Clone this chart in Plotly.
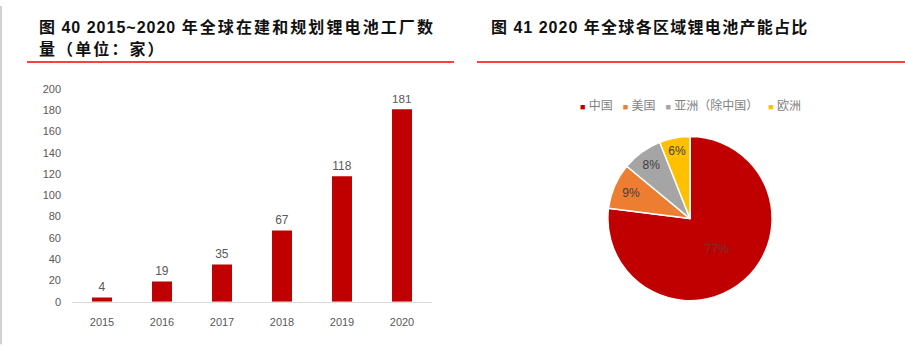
import plotly.graph_objects as go

# ---- data ----
years = ["2015", "2016", "2017", "2018", "2019", "2020"]
factories = [4, 19, 35, 67, 118, 181]

regions = ["中国", "美国", "亚洲（除中国）", "欧洲"]
shares = [77, 9, 8, 6]
region_colors = ["#C00000", "#ED7D31", "#A5A5A5", "#FFC000"]

title_left_head = "图 40 2015~2020 "
title_left_1 = "年全球在建和规划锂电池工厂数"
title_left_2 = "量（单位：家）"
title_right_head = "图 41 2020 "
title_right = "年全球各区域锂电池产能占比"

W, H = 905, 355
def px(x):
    return x / W
def py(y):
    return 1 - y / H

fig = go.Figure()

fig.add_trace(go.Bar(
    x=years, y=factories,
    marker=dict(color="#C00000", line=dict(width=0)),
    text=factories, textposition="outside", cliponaxis=False,
    textfont=dict(family="Liberation Sans, Arial, sans-serif", size=12, color="#595959"),
    showlegend=False, hoverinfo="x+y",
))

fig.add_trace(go.Pie(
    labels=regions, values=shares,
    marker=dict(colors=region_colors, line=dict(color="white", width=1.5)),
    sort=False, direction="clockwise", rotation=0,
    textposition="inside", insidetextorientation="horizontal",
    texttemplate="%{value}%",
    textfont=dict(family="Liberation Sans, Arial, sans-serif", size=12,
                  color=["#7a3030", "#404040", "#404040", "#404040"]),
    domain=dict(x=[px(605), px(775)], y=[py(305), py(135)]),
    showlegend=False,
))

fig.update_layout(
    width=W, height=H,
    margin=dict(l=0, r=0, t=0, b=0),
    paper_bgcolor="white", plot_bgcolor="white",
    bargap=0.667,
    xaxis=dict(domain=[px(72), px(432)], showgrid=False, zeroline=False,
               showline=True, linecolor="#D9D9D9", linewidth=1,
               ticks="", ticklabelstandoff=10,
               tickfont=dict(family="Liberation Sans, Arial, sans-serif", size=11, color="#595959")),
    yaxis=dict(domain=[py(306), py(86)], range=[0, 200], dtick=20,
               showgrid=False, zeroline=False, showline=False, ticks="",
               ticklabelstandoff=10,
               tickfont=dict(family="Liberation Sans, Arial, sans-serif", size=11, color="#595959")),
    font=dict(family="Liberation Sans, Noto Sans CJK SC, sans-serif"),
)

title_font = dict(family="Liberation Sans, Noto Sans CJK SC, sans-serif", size=16, color="#111111")

def spaced(t, sp):
    return "<span style='letter-spacing:%spx'>%s</span>" % (sp, t)

fig.add_annotation(x=px(37), y=py(22), xref="paper", yref="paper", xanchor="left", yanchor="middle",
                   text="<b>" + spaced(title_left_head, 1.0) + spaced(title_left_1, 2.1) + "</b>",
                   showarrow=False, font=title_font)
fig.add_annotation(x=px(37), y=py(45), xref="paper", yref="paper", xanchor="left", yanchor="middle",
                   text="<b>" + spaced(title_left_2, 2.1) + "</b>", showarrow=False, font=title_font)
fig.add_annotation(x=px(489), y=py(22), xref="paper", yref="paper", xanchor="left", yanchor="middle",
                   text="<b>" + spaced(title_right_head, 1.0) + spaced(title_right, 1.3) + "</b>",
                   showarrow=False, font=title_font)

# legend built from region names/colors
legend_html = "&nbsp;&nbsp;&nbsp;".join(
    "<span style='color:%s;font-size:9px'>■</span>&nbsp;%s" % (c, n) for n, c in zip(regions, region_colors)
)
fig.add_annotation(x=px(690), y=py(103), xref="paper", yref="paper", xanchor="center", yanchor="middle",
                   text=legend_html, showarrow=False,
                   font=dict(family="Liberation Sans, Noto Sans CJK SC, sans-serif", size=12, color="#7F7F7F"))

# red rules under titles and left page border
fig.add_shape(type="line", xref="paper", yref="paper", x0=px(27), x1=px(454), y0=py(58), y1=py(58),
              line=dict(color="#FF0000", width=1.5))
fig.add_shape(type="line", xref="paper", yref="paper", x0=px(477), x1=1, y0=py(58), y1=py(58),
              line=dict(color="#FF0000", width=1.5))
fig.add_shape(type="line", xref="paper", yref="paper", x0=px(1), x1=px(1), y0=py(0), y1=py(350),
              line=dict(color="#D0D0D0", width=2))

fig.write_html("out.html", config={"displayModeBar": False},
               post_script="document.body.style.margin='0';document.body.style.overflow='hidden';")
